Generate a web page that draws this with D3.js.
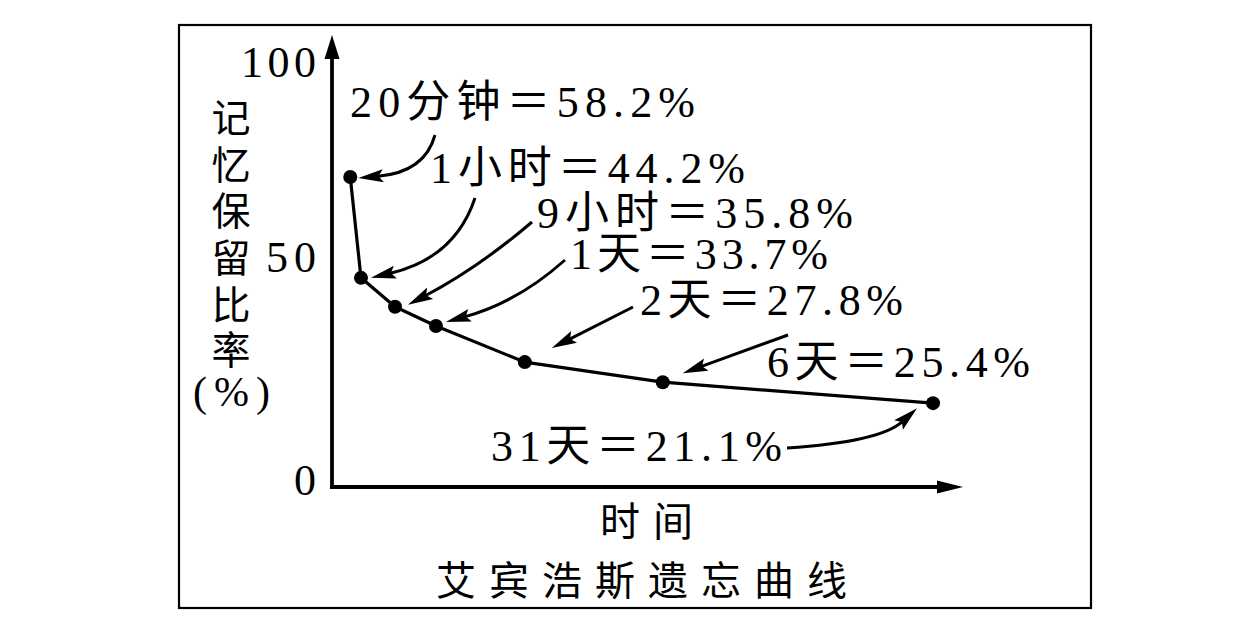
<!DOCTYPE html>
<html>
<head>
<meta charset="utf-8">
<script src="https://cdn.jsdelivr.net/npm/d3@7/dist/d3.min.js"></script>
<style>
  html, body { margin: 0; padding: 0; background: #fff; }
  svg { display: block; }
  text { fill: #000; }
</style>
</head>
<body>
<svg id="chart" width="1252" height="636"></svg>
<script>
// ---------------- data ----------------
const timeLabels = ["20分钟", "1小时", "9小时", "1天", "2天", "6天", "31天"];
const retention  = [58.2, 44.2, 35.8, 33.7, 27.8, 25.4, 21.1];   // values printed in the labels
const plotLevel  = [72.3, 46.9, 40.4, 36.1, 28.0, 23.5, 18.8];   // heights of the dots as read on the axis
const timePos    = [2.9, 4.6, 10.0, 16.5, 30.6, 52.5, 95.4];     // position along the (unscaled) time axis
const yTicks     = [0, 50, 100];
const yTitleChars = ["记", "忆", "保", "留", "比", "率"];
const xTitle = "时间";
const chartTitle = "艾宾浩斯遗忘曲线";

// ---------------- layout (pixels) ----------------
const annLayout = [
  { lx: 350, ly: 117, lw: 345, sx: 435, sy: 135, cx: 425, cy: 172, tdx: 8,  tdy: 1 },
  { lx: 430, ly: 183, lw: 315, sx: 475, sy: 198, cx: 455, cy: 258, tdx: 10, tdy: 0 },
  { lx: 537, ly: 228, lw: 316, sx: 532, sy: 222, cx: 478, cy: 268, tdx: 13, tdy: -2 },
  { lx: 570, ly: 269, lw: 258, sx: 565, sy: 260, cx: 518, cy: 302, tdx: 10, tdy: -4 },
  { lx: 640, ly: 315, lw: 263, sx: 633, sy: 307, cx: null, cy: null, tdx: 27, tdy: -14 },
  { lx: 767, ly: 377, lw: 263, sx: 788, sy: 335, cx: null, cy: null, tdx: 20, tdy: -9 },
  { lx: 491, ly: 461, lw: 291, sx: 787, sy: 448, cx: 880, cy: 442, tdx: -16, tdy: 5 }
];
const FONT = "'Liberation Serif','Times New Roman','Noto Sans CJK SC',serif";

const svg = d3.select("#chart");

// border frame
svg.append("rect")
  .attr("x", 179).attr("y", 25).attr("width", 912).attr("height", 583)
  .attr("fill", "none").attr("stroke", "#000").attr("stroke-width", 2.2);

// scales
const x = d3.scaleLinear().domain([0, 100]).range([332, 962]);
const y = d3.scaleLinear().domain([0, 50, 100]).range([487, 264, 69]);

const x0 = x(0), y0 = y(0);

// arrowhead helper
function arrowHead(g, tipX, tipY, dirX, dirY, len, halfW) {
  const n = Math.hypot(dirX, dirY);
  const ux = dirX / n, uy = dirY / n;
  const bx = tipX - ux * len, by = tipY - uy * len;
  const px = -uy, py = ux;
  g.append("path")
    .attr("d", `M${tipX},${tipY}L${bx + px * halfW},${by + py * halfW}L${tipX - ux * len * 0.82},${tipY - uy * len * 0.82}L${bx - px * halfW},${by - py * halfW}Z`)
    .attr("fill", "#000");
  return [tipX - ux * len * 0.8, tipY - uy * len * 0.8];
}

// axes lines with arrows
const axesG = svg.append("g");
const yTipY = 35, xTipX = x(100) + 1;
axesG.append("line")
  .attr("x1", x0).attr("y1", y0 + 2).attr("x2", x0).attr("y2", yTipY + 20)
  .attr("stroke", "#000").attr("stroke-width", 3.8);
axesG.append("path")
  .attr("d", `M${x0},${yTipY}L${x0 - 7.5},${yTipY + 24}L${x0 + 7.5},${yTipY + 24}Z`)
  .attr("fill", "#000");
axesG.append("line")
  .attr("x1", x0 - 1.9).attr("y1", y0).attr("x2", xTipX - 22).attr("y2", y0)
  .attr("stroke", "#000").attr("stroke-width", 3.8);
axesG.append("path")
  .attr("d", `M${xTipX},${y0}L${xTipX - 26},${y0 - 6.5}L${xTipX - 26},${y0 + 6.5}Z`)
  .attr("fill", "#000");

// y tick labels via d3 axis
const yAxis = d3.axisLeft(y).tickValues(yTicks).tickSize(0).tickPadding(16).tickFormat(d3.format("d"));
const yAxisG = svg.append("g").attr("transform", `translate(${x0},0)`).call(yAxis);
yAxisG.select(".domain").remove();
yAxisG.selectAll("text")
  .attr("font-family", FONT).attr("font-size", 44)
  .attr("y", -7).attr("dy", "0.33em")
  .each(function (d) {
    const w = { 0: null, 50: 50, 100: 75 }[d];
    if (w) d3.select(this).attr("textLength", w).attr("lengthAdjust", "spacing");
  });

// y title (vertical)
const yTitleCenters = [118, 165, 211, 258, 305, 350];
svg.append("g").selectAll("text").data(yTitleChars).join("text")
  .attr("x", 231).attr("y", (d, i) => yTitleCenters[i] + 14)
  .attr("text-anchor", "middle")
  .attr("font-family", FONT).attr("font-size", 39)
  .text(d => d);
svg.append("text")
  .attr("x", 193).attr("y", 406)
  .attr("font-family", FONT).attr("font-size", 42)
  .attr("textLength", 77).attr("lengthAdjust", "spacing")
  .text("(%)");

// curve
const pts = timePos.map((t, i) => [x(t), y(plotLevel[i])]);
svg.append("path")
  .attr("d", d3.line()(pts))
  .attr("fill", "none").attr("stroke", "#000").attr("stroke-width", 3.2)
  .attr("stroke-linejoin", "round");

svg.append("g").selectAll("circle").data(pts).join("circle")
  .attr("cx", d => d[0]).attr("cy", d => d[1]).attr("r", 7)
  .attr("fill", "#000");

// annotations
const annG = svg.append("g");
annLayout.forEach((a, i) => {
  const tipX = pts[i][0] + a.tdx, tipY = pts[i][1] + a.tdy;
  let dirX, dirY;
  if (a.cx !== null) { dirX = tipX - a.cx; dirY = tipY - a.cy; }
  else { dirX = tipX - a.sx; dirY = tipY - a.sy; }
  const [ex, ey] = arrowHead(annG, tipX, tipY, dirX, dirY, 25, 6.5);
  const p = d3.path();
  p.moveTo(a.sx, a.sy);
  if (a.cx !== null) p.quadraticCurveTo(a.cx, a.cy, ex, ey);
  else p.lineTo(ex, ey);
  annG.append("path").attr("d", p.toString())
    .attr("fill", "none").attr("stroke", "#000").attr("stroke-width", 3);

  annG.append("text")
    .attr("x", a.lx).attr("y", a.ly)
    .attr("font-family", FONT).attr("font-size", 44)
    .attr("textLength", a.lw).attr("lengthAdjust", "spacing")
    .text(`${timeLabels[i]}＝${retention[i]}%`);
});

// x title and chart title
svg.append("text")
  .attr("x", 600).attr("y", 536)
  .attr("font-family", FONT).attr("font-size", 40)
  .attr("textLength", 93).attr("lengthAdjust", "spacing")
  .text(xTitle);
svg.append("text")
  .attr("x", 436).attr("y", 595)
  .attr("font-family", FONT).attr("font-size", 40)
  .attr("textLength", 411).attr("lengthAdjust", "spacing")
  .text(chartTitle);
</script>
</body>
</html>
